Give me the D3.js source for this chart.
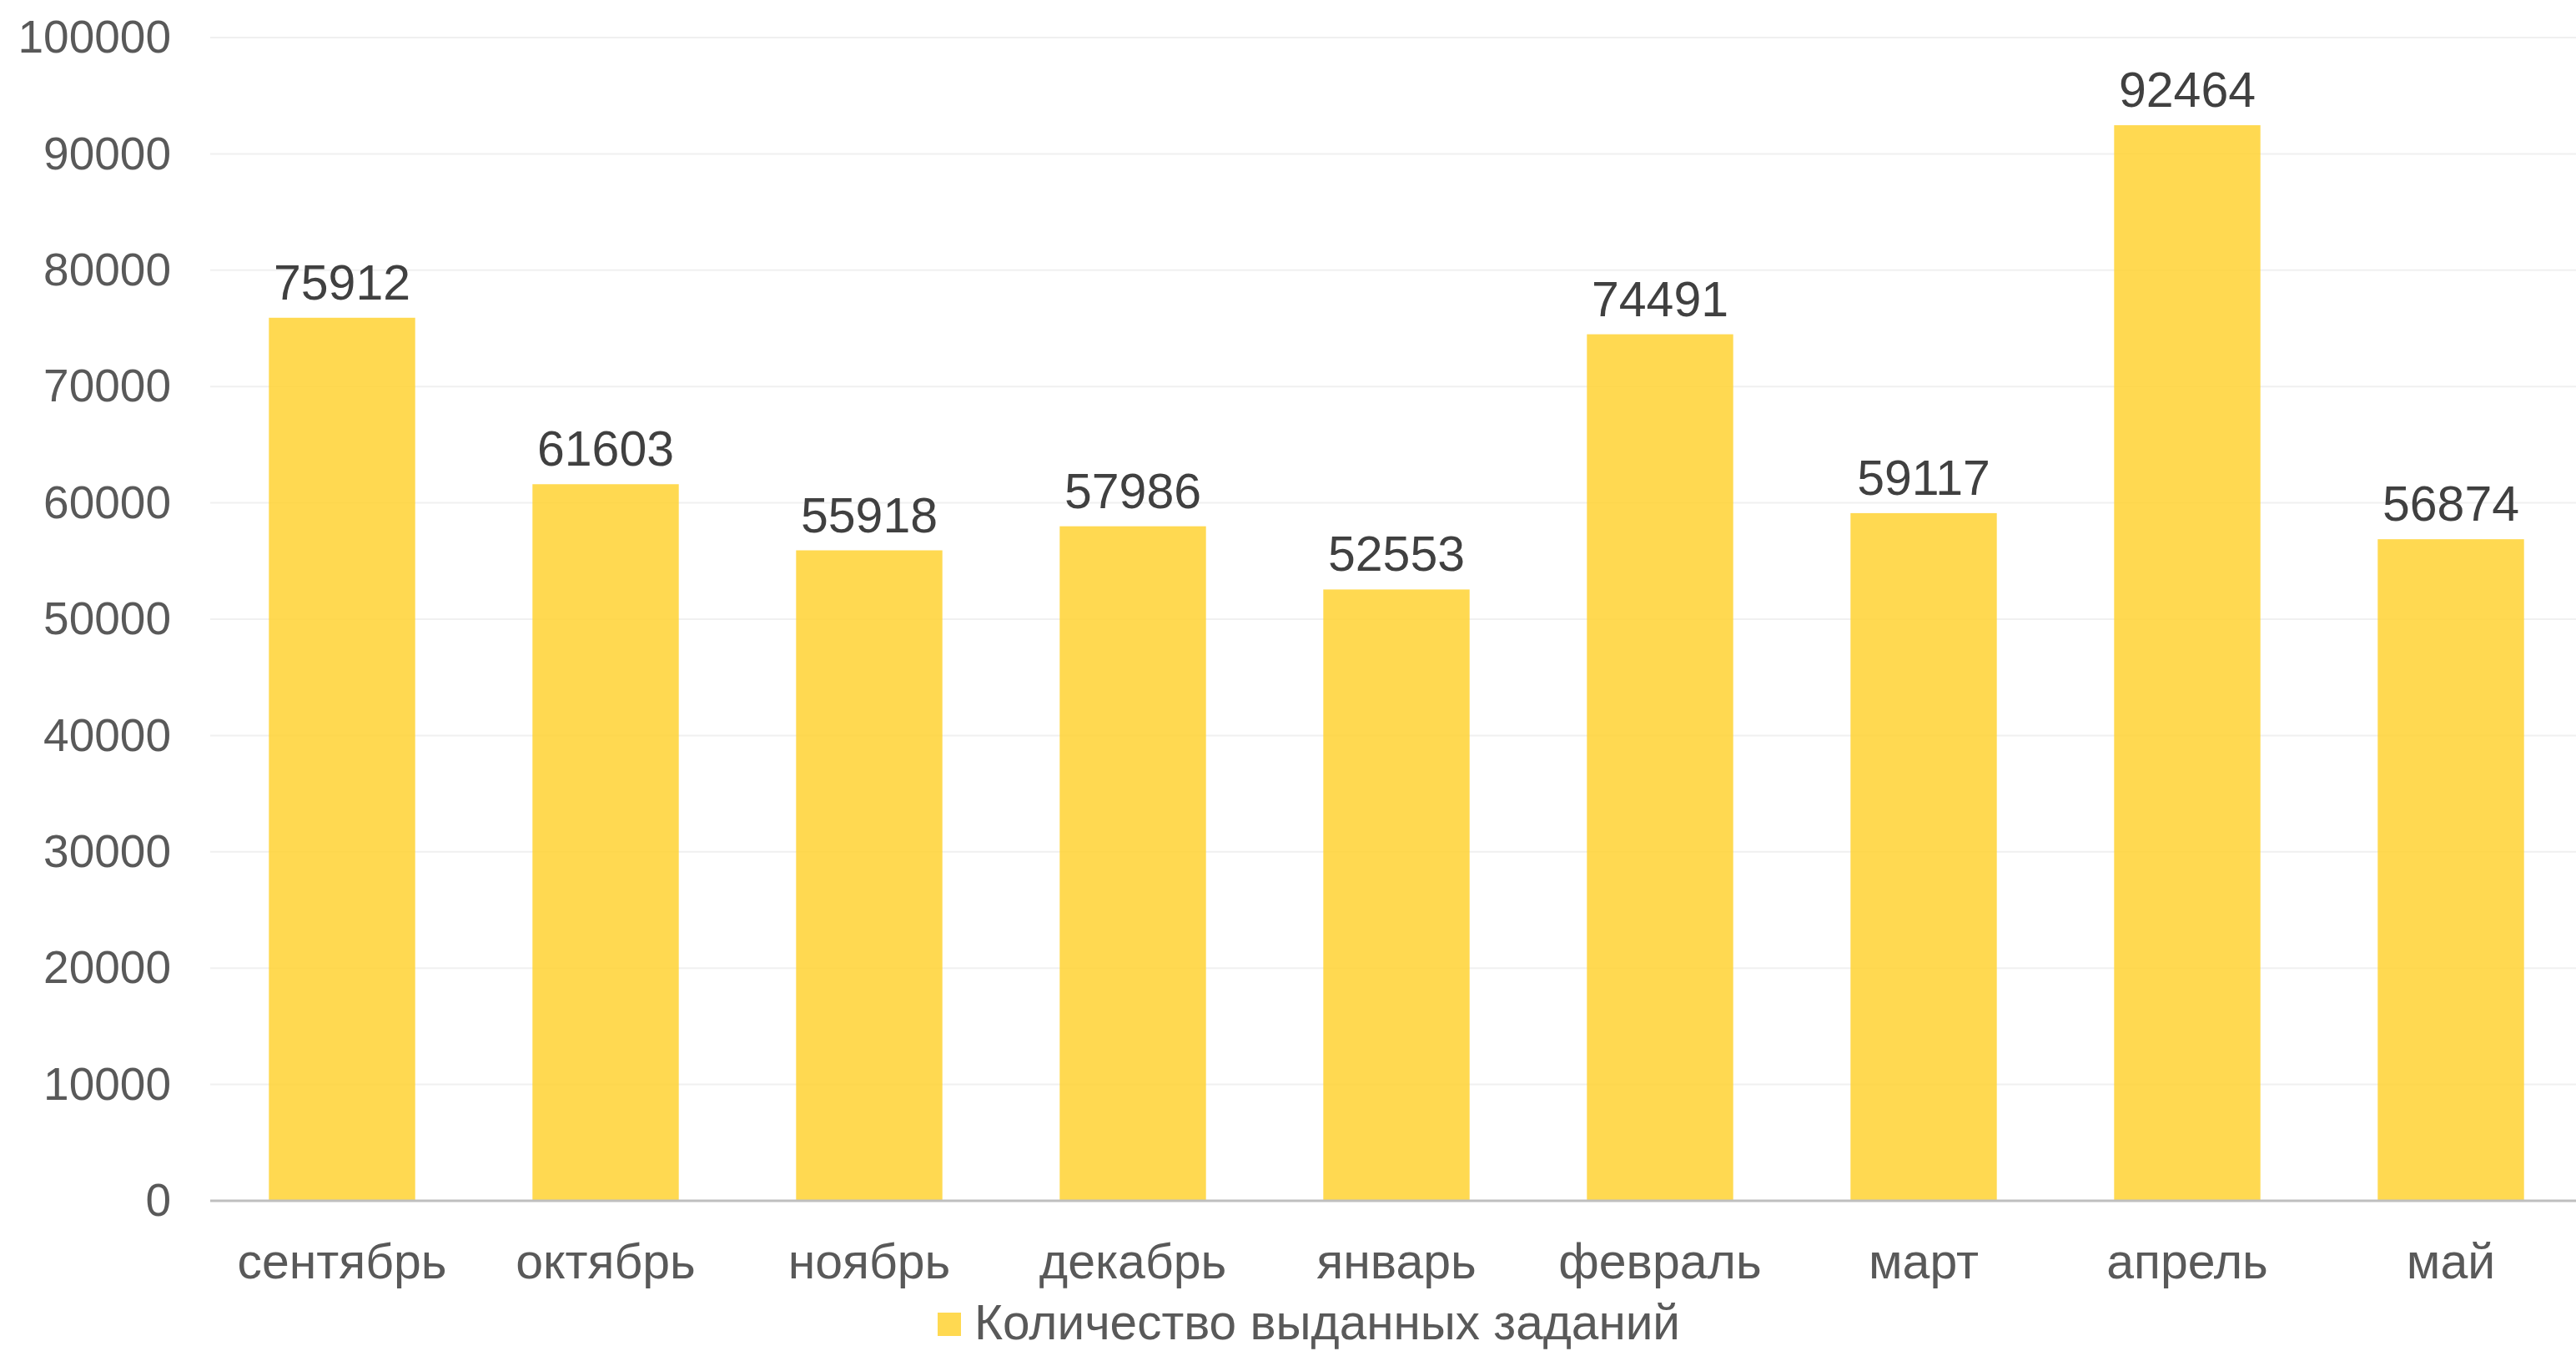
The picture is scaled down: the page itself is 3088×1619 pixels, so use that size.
<!DOCTYPE html>
<html>
<head>
<meta charset="utf-8">
<script src="https://cdn.jsdelivr.net/npm/d3@7"></script>
<style>
  html, body { margin: 0; padding: 0; background: #fff; }
  svg { display: block; font-family: "Liberation Sans", Arial, sans-serif; }
</style>
</head>
<body>
<svg id="chart" width="3088" height="1619"></svg>
<script>
const categories = ["сентябрь", "октябрь", "ноябрь", "декабрь", "январь", "февраль", "март", "апрель", "май"];
const values = [75912, 61603, 55918, 57986, 52553, 74491, 59117, 92464, 56874];
const yTicks = [0, 10000, 20000, 30000, 40000, 50000, 60000, 70000, 80000, 90000, 100000];
const seriesName = "Количество выданных заданий";

(function () {
const W = 3088, H = 1619;
const mLeft = 252, mRight = 3096, mTop = 45, mBottom = 1439;

const svg = d3.select("#chart");

const x = d3.scaleBand().domain(categories).range([mLeft, mRight]).paddingInner(0.445).paddingOuter(0.2225);
const y = d3.scaleLinear().domain([0, 100000]).range([mBottom, mTop]);

// gridlines
svg.append("g").selectAll("line").data(yTicks.filter(d => d > 0)).join("line")
  .attr("x1", mLeft).attr("x2", W)
  .attr("y1", d => y(d)).attr("y2", d => y(d))
  .attr("stroke", "#F0F0F0").attr("stroke-width", 2);

// y axis labels
const yAxis = d3.axisLeft(y).tickValues(yTicks).tickSize(0).tickPadding(0).tickFormat(d3.format("d"));
const gy = svg.append("g").attr("transform", "translate(205,0)").call(yAxis);
gy.select(".domain").remove();
gy.selectAll("text").attr("fill", "#595959").attr("font-size", 55)
  .attr("font-family", "'Liberation Sans', Arial, sans-serif");

// bars
svg.append("g").selectAll("rect").data(values).join("rect")
  .attr("x", (d, i) => x(categories[i]))
  .attr("width", x.bandwidth())
  .attr("y", d => y(d))
  .attr("height", d => y(0) - y(d))
  .attr("fill", "#FFD232").attr("fill-opacity", 0.85);

// x axis line
svg.append("line").attr("x1", mLeft).attr("x2", W).attr("y1", mBottom).attr("y2", mBottom)
  .attr("stroke", "#BFBFBF").attr("stroke-width", 3);

// value labels
svg.append("g").selectAll("text").data(values).join("text")
  .attr("x", (d, i) => x(categories[i]) + x.bandwidth() / 2)
  .attr("y", d => y(d) - 22)
  .attr("text-anchor", "middle")
  .attr("font-size", 59)
  .attr("fill", "#404040")
  .text(d => d);

// category labels
const xAxis = d3.axisBottom(x).tickSize(0).tickPadding(0);
const gx = svg.append("g").attr("transform", `translate(0,${mBottom})`).call(xAxis);
gx.select(".domain").remove();
gx.selectAll("text").attr("dy", null).attr("y", 93)
  .attr("fill", "#595959").attr("font-size", 59)
  .attr("font-family", "'Liberation Sans', Arial, sans-serif");

// legend
const lg = svg.append("g");
lg.append("rect").attr("x", 1124).attr("y", 1573).attr("width", 28).attr("height", 28)
  .attr("fill", "#FFD232").attr("fill-opacity", 0.85);
lg.append("text").attr("x", 1168).attr("y", 1605).attr("font-size", 58.5).attr("fill", "#595959")
  .text(seriesName);
})();
</script>
</body>
</html>
